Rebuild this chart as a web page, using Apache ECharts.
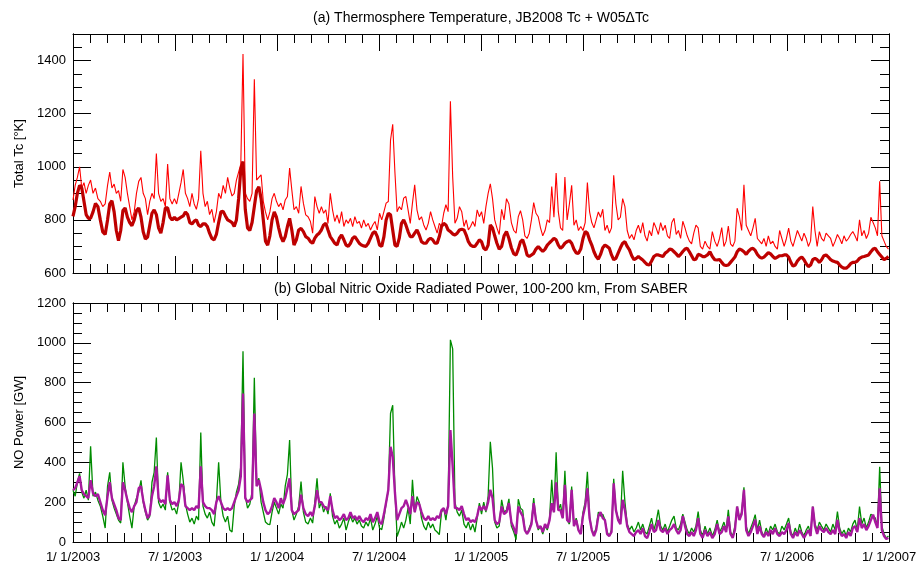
<!DOCTYPE html>
<html>
<head>
<meta charset="utf-8">
<title>Thermosphere Temperature and NO Power</title>
<script src="https://cdn.jsdelivr.net/npm/echarts@6.0.0/dist/echarts.min.js"></script>
<style>
  html, body { margin: 0; padding: 0; background: #fff; }
  #chart { width: 924px; height: 567px; }
</style>
</head>
<body>
<div id="chart"></div>
<script>
// samples every 4 days starting 1/1/2003
var START = Date.UTC(2003, 0, 1);
var STEP_DAYS = 4;

// x axis: months since 1/1/2003, labelled every 6 months
var tickMonths = [0, 6, 12, 18, 24, 30, 36, 42, 48];

// (a) JB2008 Tc + W05 dTc (thin red)
var tcTotal = [
  875,930,960,1000,920,940,900,930,950,900,
  920,880,870,850,860,930,980,920,935,900,
  910,870,990,960,900,850,800,830,900,945,
  960,900,880,820,870,900,880,1050,900,870,
  880,850,1010,880,860,880,860,900,940,990,
  900,880,850,900,860,840,880,1060,900,850,
  870,820,840,790,830,900,880,930,900,960,
  920,890,900,950,980,1010,1425,900,880,870,
  900,1330,950,960,970,870,830,800,830,880,
  900,870,850,
  863,838,875,888,995,913,838,850,825,926,
  863,819,812,794,750,888,850,825,850,825,
  838,787,900,838,794,819,787,831,775,800,
  787,806,775,812,787,794,769,800,775,787,
  762,781,794,762,825,800,831,863,869,1100,
  1160,980,831,850,838,882,888,838,787,863,
  932,838,800,812,781,762,787,831,800,775,
  750,787,775,825,857,831,1247,963,787,806,
  850,831,775,800,762,775,794,775,838,812,
  831,787,850,900,
  936,880,800,770,745,840,800,880,860,790,
  760,750,812,835,800,740,730,750,800,865,
  825,812,770,740,760,800,790,926,810,976,
  830,770,760,961,800,860,930,780,800,760,
  775,760,790,941,830,790,770,800,830,810,
  840,760,780,750,770,968,860,800,810,880,
  850,760,730,745,725,760,780,750,790,740,
  720,760,740,790,770,745,790,760,780,740,
  730,790,806,745,760,730,795,770,740,720,
  710,750,780,770,
  700,690,720,700,690,756,720,700,730,771,
  700,720,777,710,700,720,844,812,760,932,
  780,760,740,770,806,730,720,710,730,700,
  740,710,720,700,690,760,730,700,730,769,
  720,700,730,760,740,720,750,730,700,720,
  850,760,700,756,730,720,750,740,730,700,
  720,745,730,710,740,720,730,745,756,740,
  720,800,740,760,730,750,810,790,770,740,
  945,740,720,700,690
];

// (a) JB2008 Tc (thick dark red)
var tcBase = [
  813,850,900,930,920,870,820,806,806,830,
  862,850,800,755,745,800,860,872,830,760,
  722,760,835,845,810,790,778,800,835,845,
  810,755,728,735,780,825,838,820,770,750,
  790,845,845,810,800,810,800,805,810,815,
  830,820,790,785,795,800,780,775,785,785,
  775,750,730,725,745,790,830,832,815,800,
  795,790,775,800,880,990,1020,840,770,760,
  790,850,910,925,880,800,720,705,740,800,
  830,810,770,
  737,718,737,775,806,762,705,725,762,768,
  756,737,731,718,712,731,743,750,762,781,
  787,762,737,725,712,705,731,743,725,705,
  700,712,731,737,725,712,705,702,700,712,
  731,750,756,737,705,700,737,800,825,819,
  762,705,700,731,787,800,781,756,737,737,
  750,762,743,718,712,712,725,731,725,712,
  712,737,775,787,781,762,756,747,743,750,
  762,765,762,743,718,705,700,700,712,725,
  718,693,687,705,
  781,770,740,712,690,700,740,756,730,695,
  672,668,690,718,725,700,668,662,668,674,
  690,700,690,681,690,705,714,722,731,725,
  705,693,700,712,718,722,712,690,676,674,
  690,730,756,750,725,705,680,662,652,670,
  695,705,700,693,668,650,655,675,695,712,
  718,700,687,665,650,655,662,655,649,640,
  632,630,645,662,668,668,665,662,675,681,
  690,688,680,672,662,670,681,690,693,680,
  665,650,652,670,
  668,662,662,668,680,662,650,649,651,640,
  630,628,630,640,650,660,680,690,687,680,
  670,682,690,693,685,670,660,656,660,668,
  677,672,662,655,660,665,665,668,668,660,
  640,626,630,645,655,660,650,635,624,630,
  650,655,650,640,650,665,668,660,650,645,
  642,640,630,622,618,618,625,635,640,640,
  645,655,660,662,665,668,680,690,693,680,
  670,660,650,655,662
];

// (b) NO power, green
var noGreen = [
  260,230,300,345,250,220,260,210,480,230,
  250,210,180,130,70,280,350,210,170,140,
  110,95,400,280,200,130,70,180,220,250,
  310,200,150,110,130,300,350,525,200,170,
  190,160,350,200,160,170,140,200,400,310,
  190,140,100,120,90,130,110,550,180,140,
  120,150,100,80,200,400,200,130,100,130,
  60,50,180,250,290,380,958,230,170,190,
  250,825,300,320,200,150,100,90,87,150,
  200,170,140,
  190,170,280,340,512,160,110,140,180,303,
  150,100,90,120,95,200,320,170,200,150,
  180,140,245,130,90,110,70,90,120,60,
  100,130,100,120,90,110,80,70,100,80,
  120,60,90,130,70,62,120,195,262,645,
  687,262,28,60,100,70,110,170,90,312,
  150,228,200,120,80,60,100,70,90,60,
  50,37,150,170,110,200,1015,970,200,150,
  130,160,90,70,100,60,90,50,120,195,
  140,200,150,230,
  503,370,100,70,80,212,150,160,217,80,
  50,12,215,170,160,60,40,70,100,220,
  110,60,80,40,80,60,120,312,150,450,
  160,190,120,357,110,90,278,80,120,60,
  50,150,200,352,130,60,40,70,150,130,
  140,110,50,30,60,317,160,120,100,357,
  200,90,60,80,50,70,100,60,90,50,
  40,80,120,60,100,162,80,60,90,50,
  80,110,130,70,60,90,140,100,60,40,
  70,50,80,153,
  60,30,80,40,70,30,60,110,50,70,
  100,60,162,50,30,80,178,120,150,275,
  80,40,70,100,137,60,110,50,30,70,
  40,80,60,90,50,40,80,60,90,120,
  50,30,70,40,90,50,30,60,80,40,
  178,90,60,100,80,60,90,70,50,90,
  60,153,70,40,60,30,70,50,90,110,
  60,178,90,120,70,100,140,130,120,80,
  378,80,40,20,30
];

// (b) NO power, magenta
var noMagenta = [
  260,270,300,330,260,240,230,220,310,245,
  230,240,200,160,135,230,300,220,190,160,
  120,110,300,260,210,170,150,180,200,270,
  280,210,160,120,140,230,280,380,220,200,
  210,190,335,210,190,200,180,210,290,280,
  180,170,160,170,160,180,170,380,200,180,
  170,170,160,140,200,230,200,170,160,170,
  160,170,200,230,260,330,745,220,200,210,
  220,645,280,310,260,200,160,140,150,180,
  220,200,170,
  220,190,220,270,320,160,140,150,160,237,
  170,140,130,150,130,180,260,200,200,180,
  170,160,230,160,120,130,110,120,140,110,
  120,150,120,130,110,130,110,100,120,110,
  140,100,120,150,100,90,140,200,262,478,
  428,250,110,140,170,180,212,180,140,230,
  150,200,190,150,120,110,130,110,120,110,
  130,120,160,170,140,180,562,380,170,170,
  160,180,140,110,120,100,110,100,130,180,
  160,180,160,200,
  262,220,110,90,100,178,140,150,195,100,
  70,40,178,150,130,60,40,60,90,195,
  110,70,80,50,90,70,110,195,150,300,
  160,160,120,287,110,100,262,80,110,60,
  40,130,180,270,120,60,30,60,130,150,
  120,110,40,30,50,295,160,110,90,212,
  160,80,50,40,30,50,60,40,70,30,
  20,50,90,50,60,110,60,50,70,40,
  60,70,90,60,40,60,130,80,40,30,
  50,30,60,120,
  40,20,60,30,50,20,40,90,40,50,
  80,50,128,40,20,60,178,110,140,262,
  60,30,50,80,112,40,80,40,25,50,
  30,60,40,70,40,30,50,40,60,95,
  40,20,50,30,60,40,20,40,60,30,
  178,80,40,80,60,50,70,50,40,60,
  40,112,50,30,40,20,50,30,70,80,
  50,120,70,90,60,80,110,137,100,70,
  270,60,30,15,20
];

var FONT = 'Liberation Sans, Arial, sans-serif';

// position of sample i in months since 1/1/2003
function monthPos(i) {
    var d = new Date(START + i * STEP_DAYS * 86400000);
    var y = d.getUTCFullYear(), m = d.getUTCMonth();
    var dim = new Date(Date.UTC(y, m + 1, 0)).getUTCDate();
    return (y - 2003) * 12 + m + (d.getUTCDate() - 1) / dim;
}

function toXY(arr) {
    return arr.map(function (v, i) { return [monthPos(i), v]; });
}

function dateLabel(v) {
    var mon = (v % 12 === 0) ? 1 : 7;
    return mon + '/ 1/' + (2003 + Math.floor(v / 12));
}

function xAxisFor(g, pos, labels) {
    return {
        type: 'value', gridIndex: g, position: pos,
        min: tickMonths[0], max: tickMonths[tickMonths.length - 1], interval: 6,
        axisLine: {onZero: false, lineStyle: {color: '#000', width: 1}},
        axisTick: {inside: true, length: 17, lineStyle: {color: '#000', width: 1}},
        minorTick: {show: true, splitNumber: 6, length: 9, lineStyle: {color: '#000', width: 1}},
        splitLine: {show: false},
        axisLabel: {
            show: labels, color: '#000', fontSize: 13, fontFamily: FONT, margin: 9,
            showMinLabel: true, showMaxLabel: true, formatter: dateLabel
        }
    };
}

function yAxisFor(g, pos, min, max, step, len, labels, name) {
    var ax = {
        type: 'value', gridIndex: g, position: pos,
        min: min, max: max, interval: step,
        axisLine: {show: true, onZero: false, lineStyle: {color: '#000', width: 1}},
        axisTick: {show: true, inside: true, length: len, lineStyle: {color: '#000', width: 1}},
        splitLine: {show: false},
        axisLabel: {
            show: labels, color: '#000', fontSize: 13, fontFamily: FONT, margin: 7,
            showMaxLabel: max % 200 === 0,
            formatter: function (v) { return String(v); }
        }
    };
    if (name) {
        ax.name = name;
        ax.nameLocation = 'middle';
        ax.nameGap = 37;
        ax.nameTextStyle = {color: '#000', fontSize: 13, fontFamily: FONT};
    }
    return ax;
}

var chart = echarts.init(document.getElementById('chart'), null, {renderer: 'canvas'});

var option = {
    animation: false,
    backgroundColor: '#fff',
    graphic: [
        {type: 'text', x: 481, y: 18, style: {
            text: '(a) Thermosphere Temperature, JB2008 Tc + W05\u0394Tc',
            align: 'center', verticalAlign: 'middle', fill: '#000',
            fontSize: 14, fontFamily: FONT}},
        {type: 'text', x: 481, y: 289, style: {
            text: '(b) Global Nitric Oxide Radiated Power, 100-200 km, From SABER',
            align: 'center', verticalAlign: 'middle', fill: '#000',
            fontSize: 14, fontFamily: FONT}}
    ],
    grid: [
        {left: 73, right: 35, top: 34, height: 239},
        {left: 73, right: 35, top: 303, height: 239}
    ],
    xAxis: [
        xAxisFor(0, 'bottom', false),
        xAxisFor(0, 'top', false),
        xAxisFor(1, 'bottom', true),
        xAxisFor(1, 'top', false)
    ],
    yAxis: [
        yAxisFor(0, 'left', 600, 1500, 200, 18, true, 'Total Tc [\u00b0K]'),
        yAxisFor(0, 'left', 600, 1500, 50, 9, false),
        yAxisFor(0, 'right', 600, 1500, 200, 18, false),
        yAxisFor(0, 'right', 600, 1500, 50, 9, false),
        yAxisFor(1, 'left', 0, 1200, 200, 18, true, 'NO Power [GW]'),
        yAxisFor(1, 'left', 0, 1200, 50, 9, false),
        yAxisFor(1, 'right', 0, 1200, 200, 18, false),
        yAxisFor(1, 'right', 0, 1200, 50, 9, false)
    ],
    series: [
        {type: 'line', xAxisIndex: 0, yAxisIndex: 0, data: toXY(tcTotal),
            showSymbol: false, silent: true, lineStyle: {color: '#ff0000', width: 1.1}},
        {type: 'line', xAxisIndex: 0, yAxisIndex: 0, data: toXY(tcBase),
            showSymbol: false, silent: true, lineStyle: {color: '#be0000', width: 3.2}},
        {type: 'line', xAxisIndex: 2, yAxisIndex: 4, data: toXY(noGreen),
            showSymbol: false, silent: true, lineStyle: {color: '#008c00', width: 1.3}},
        {type: 'line', xAxisIndex: 2, yAxisIndex: 4, data: toXY(noMagenta),
            showSymbol: false, silent: true, lineStyle: {color: '#a8189e', width: 2.4}}
    ]
};

chart.setOption(option);
</script>
</body>
</html>
